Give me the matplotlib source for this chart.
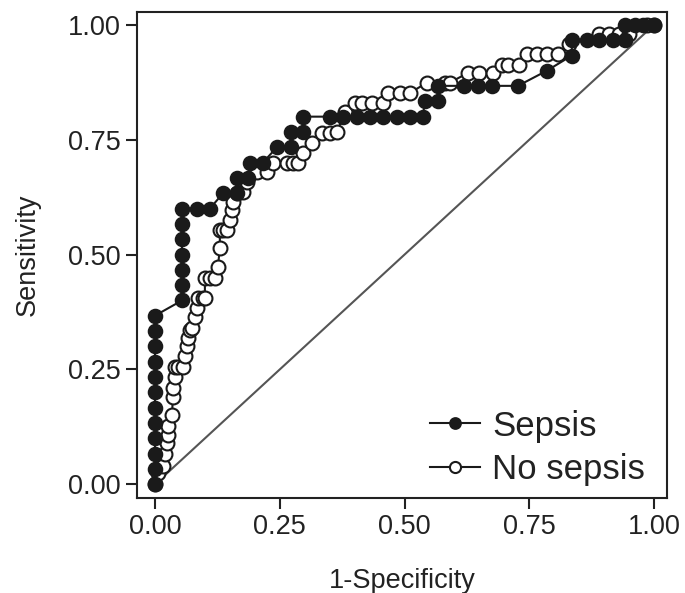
import matplotlib.pyplot as plt

plt.rcParams['font.family'] = ['Liberation Sans', 'DejaVu Sans']

# Sepsis ROC points (1-specificity, sensitivity)
sepsis_x = [0, 0, 0, 0, 0, 0, 0, 0, 0, 0, 0, 0,
            0.054, 0.054, 0.054, 0.054, 0.054, 0.054, 0.054, 0.084, 0.11,
            0.136, 0.164, 0.164, 0.186, 0.19, 0.216, 0.244, 0.272, 0.272, 0.297, 0.297,
            0.35, 0.377, 0.405, 0.43, 0.457, 0.485, 0.511, 0.537, 0.54, 0.567, 0.567,
            0.62, 0.647, 0.675, 0.727, 0.785, 0.835, 0.835, 0.865, 0.89, 0.918, 0.942,
            0.942, 0.962, 0.978, 1.0]
sepsis_y = [0, 0.033, 0.067, 0.1, 0.133, 0.167, 0.2, 0.233, 0.267, 0.3, 0.333, 0.367,
            0.4, 0.433, 0.467, 0.5, 0.533, 0.567, 0.6, 0.6, 0.6,
            0.633, 0.633, 0.667, 0.667, 0.7, 0.7, 0.733, 0.733, 0.767, 0.767, 0.8,
            0.8, 0.8, 0.8, 0.8, 0.8, 0.8, 0.8, 0.8, 0.833, 0.833, 0.867,
            0.867, 0.867, 0.867, 0.867, 0.9, 0.933, 0.967, 0.967, 0.967, 0.967, 0.967,
            1.0, 1.0, 1.0, 1.0]

# No sepsis ROC points
nosep_x = [0, 0.006, 0.016, 0.02, 0.024, 0.026, 0.026, 0.034, 0.036, 0.036, 0.04, 0.04,
           0.046, 0.056, 0.06, 0.064, 0.066, 0.07, 0.074, 0.08, 0.084, 0.086, 0.096, 0.1,
           0.1, 0.11, 0.12, 0.126, 0.13, 0.13, 0.136, 0.144, 0.15, 0.154, 0.156, 0.164,
           0.176, 0.184, 0.204, 0.224, 0.236, 0.264, 0.276, 0.287, 0.297, 0.315, 0.335,
           0.35, 0.365, 0.38, 0.4, 0.415, 0.434, 0.457, 0.467, 0.49, 0.511, 0.545, 0.58,
           0.59, 0.627, 0.65, 0.677, 0.695, 0.707, 0.73, 0.745, 0.765, 0.785, 0.808,
           0.83, 0.89, 0.91, 0.93, 0.95, 0.985, 1.0]
nosep_y = [0, 0.024, 0.04, 0.067, 0.09, 0.107, 0.128, 0.15, 0.19, 0.21, 0.233, 0.255,
           0.255, 0.255, 0.28, 0.3, 0.318, 0.335, 0.34, 0.364, 0.383, 0.405, 0.405, 0.405,
           0.448, 0.448, 0.448, 0.473, 0.514, 0.553, 0.553, 0.553, 0.575, 0.597, 0.614, 0.634,
           0.636, 0.658, 0.68, 0.68, 0.7, 0.7, 0.7, 0.7, 0.72, 0.743, 0.765,
           0.765, 0.767, 0.81, 0.83, 0.83, 0.83, 0.83, 0.852, 0.852, 0.852, 0.874, 0.874,
           0.874, 0.895, 0.895, 0.895, 0.913, 0.913, 0.913, 0.937, 0.937, 0.937, 0.937,
           0.958, 0.98, 0.98, 0.98, 0.98, 1.0, 1.0]

ticks = [0, 0.25, 0.5, 0.75, 1.0]
tick_labels = ['0.00', '0.25', '0.50', '0.75', '1.00']

fig = plt.figure(figsize=(6.85, 5.93), dpi=100)
ax = fig.add_axes([0.2, 0.16, 0.774, 0.82])

ax.plot([0, 1], [0, 1], color='#555555', lw=1.5, zorder=1)
ax.plot(sepsis_x, sepsis_y, '-o', color='#1a1a1a', ms=10, mfc='#1a1a1a',
        mec='#1a1a1a', mew=1.2, lw=1.5, label='Sepsis', zorder=3)
ax.plot(nosep_x, nosep_y, '-o', color='#1a1a1a', ms=10, mfc='white',
        mec='#1a1a1a', mew=1.5, lw=1.5, label='No sepsis', zorder=2)

ax.set_xlim(-0.036, 1.026)
ax.set_ylim(-0.03, 1.028)
ax.set_xticks(ticks)
ax.set_xticklabels(tick_labels)
ax.set_yticks(ticks)
ax.set_yticklabels(tick_labels)
ax.tick_params(labelsize=19.5, length=8, width=1.5, color='#222222', labelcolor='#222222')
for s in ax.spines.values():
    s.set_linewidth(1.5)
    s.set_color('#222222')

ax.set_xlabel('1-Specificity', fontsize=19.5, color='#222222', labelpad=20)
ax.set_ylabel('Sensitivity', fontsize=19.5, color='#222222', labelpad=20)

leg = ax.legend(loc='lower right', frameon=False, fontsize=25, handlelength=1.45,
                markerscale=0.8, handletextpad=0.35, labelspacing=0.3,
                borderaxespad=0.15, borderpad=0.2, bbox_to_anchor=(0.981, 0.0))
for t in leg.get_texts():
    t.set_color('#222222')

fig.savefig('out.png', dpi=100)
